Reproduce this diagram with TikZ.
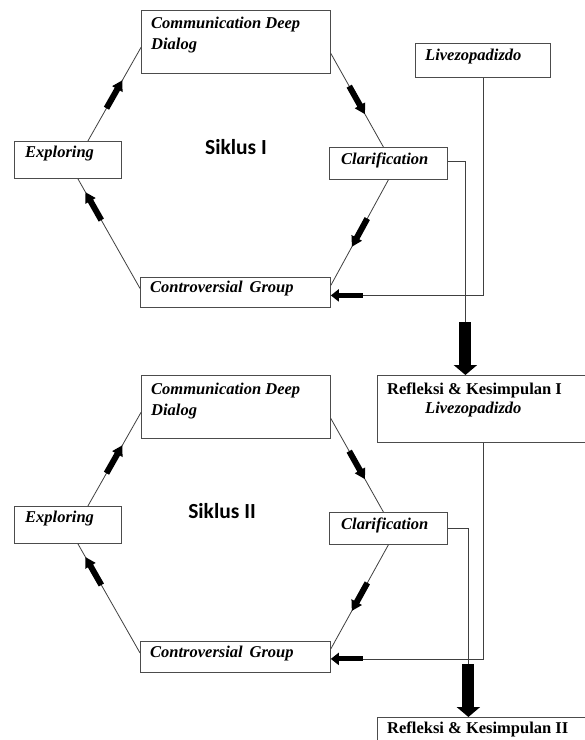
\documentclass[tikz,border=0pt]{standalone}
\usepackage{fontspec}
\setmainfont{Liberation Serif}
\newfontfamily\sikfont{Carlito}
\usetikzlibrary{arrows.meta,decorations.markings}
\tikzset{
 box/.style={draw=black!70, line width=0.8pt, rectangle, inner sep=0pt, anchor=north west},
 lbl/.style={inner sep=0pt, anchor=base west, align=left, font=\fontsize{16.5}{21}\selectfont\bfseries\itshape},
 lblr/.style={inner sep=0pt, anchor=base west, align=left, font=\fontsize{16.5}{19}\selectfont\bfseries},
 conn/.style={draw=black!75, line width=0.8pt},
 flow/.style={postaction={decorate}, decoration={markings, mark=at position #1 with {\fill[black] (-16pt,-3pt) -- (6pt,-3pt) -- (6pt,-6pt) -- (16pt,0pt) -- (6pt,6pt) -- (6pt,3pt) -- (-16pt,3pt) -- cycle;}}},
 varrow/.style={draw=black, line width=12pt, -{Triangle[length=10pt,width=23pt]}},
 harrow/.style={draw=black, line width=5pt, -{Triangle[length=8pt,width=12pt]}},
 siklus/.style={font=\sikfont\bfseries\fontsize{21.5}{24}\selectfont, inner sep=0pt},
}
\begin{document}
\begin{tikzpicture}[x=1pt,y=-1pt]
\useasboundingbox (0,0) rectangle (585,740);
\clip (0,0) rectangle (585,740);
\fill[white] (0,0) rectangle (585,740);

% ---------- Siklus I ----------
\node[box, minimum width=189pt, minimum height=63pt] (comm1) at (141,10) {};
\node[lbl] (comm1t) at (151,49) {Communication Deep\\Dialog};
\node[box, minimum width=107pt, minimum height=37pt] (expl1) at (14,141) {};
\node[lbl] (expl1t) at (25,157) {Exploring};
\node[box, minimum width=118pt, minimum height=32pt] (clar1) at (329,147) {};
\node[lbl] (clar1t) at (341,164) {Clarification};
\node[box, minimum width=190pt, minimum height=30pt] (cont1) at (140,277) {};
\node[lbl] (cont1t) at (150,292) {Controversial\, Group};
\node[box, minimum width=135pt, minimum height=34pt] (livezo) at (415,43) {};
\node[lbl] (livezot) at (425,60) {Livezopadizdo};
\node[siklus] (sik1) at (236,147) {Siklus I};

\node[box, minimum width=210pt, minimum height=67pt] (refl1) at (377,375) {};
\node[lblr] (refl1t) at (387,413) {Refleksi \& Kesimpulan I\\\hspace*{38pt}\itshape Livezopadizdo};

\draw[conn, flow=0.5] ([xshift=20pt]expl1.north) -- ([yshift=-5.5pt]comm1.west);
\draw[conn, flow=0.5] ([yshift=-11.5pt]comm1.east) -- ([xshift=-5pt]clar1.north);
\draw[conn, flow=0.5] (clar1.south) -- ([yshift=7pt]cont1.east);
\draw[conn, flow=0.75] ([yshift=4pt]cont1.west) -- ([xshift=10pt]expl1.south);

\coordinate (h1) at ([xshift=32pt,yshift=-3pt]cont1.east);
\draw[conn] (livezo.south) |- (h1);
\draw[harrow] (h1) -- ([yshift=-3pt]cont1.east);

\coordinate (v1) at ([xshift=-17pt,yshift=53pt]refl1.north);
\draw[conn] ([yshift=2pt]clar1.east) -| (v1);
\draw[varrow] (v1) -- ([xshift=-17pt]refl1.north);

% ---------- Siklus II ----------
\node[box, minimum width=189pt, minimum height=63pt] (comm2) at (141,375) {};
\node[lbl] (comm2t) at (151,415) {Communication Deep\\Dialog};
\node[box, minimum width=107pt, minimum height=37pt] (expl2) at (14,506) {};
\node[lbl] (expl2t) at (25,522) {Exploring};
\node[box, minimum width=118pt, minimum height=32pt] (clar2) at (329,512) {};
\node[lbl] (clar2t) at (341,529) {Clarification};
\node[box, minimum width=190pt, minimum height=31pt] (cont2) at (140,641) {};
\node[lbl] (cont2t) at (150,657) {Controversial\, Group};
\node[siklus] (sik2) at (222,511) {Siklus II};

\node[box, minimum width=210pt, minimum height=40pt] (refl2) at (377,717) {};
\node[lblr] (refl2t) at (387,733) {Refleksi \& Kesimpulan II};

\draw[conn, flow=0.5] ([xshift=20pt]expl2.north) -- ([yshift=-5.5pt]comm2.west);
\draw[conn, flow=0.5] ([yshift=-11.5pt]comm2.east) -- ([xshift=-5pt]clar2.north);
\draw[conn, flow=0.5] (clar2.south) -- ([yshift=8pt]cont2.east);
\draw[conn, flow=0.75] ([yshift=4pt]cont2.west) -- ([xshift=10pt]expl2.south);

\coordinate (h2) at ([xshift=32pt,yshift=-2pt]cont2.east);
\draw[conn] ([xshift=1pt]refl1.south) |- (h2);
\draw[harrow] (h2) -- ([yshift=-2pt]cont2.east);

\coordinate (v2) at ([xshift=-14pt,yshift=53pt]refl2.north);
\draw[conn] (clar2.east) -| (v2);
\draw[varrow] (v2) -- ([xshift=-14pt]refl2.north);
\end{tikzpicture}
\end{document}
